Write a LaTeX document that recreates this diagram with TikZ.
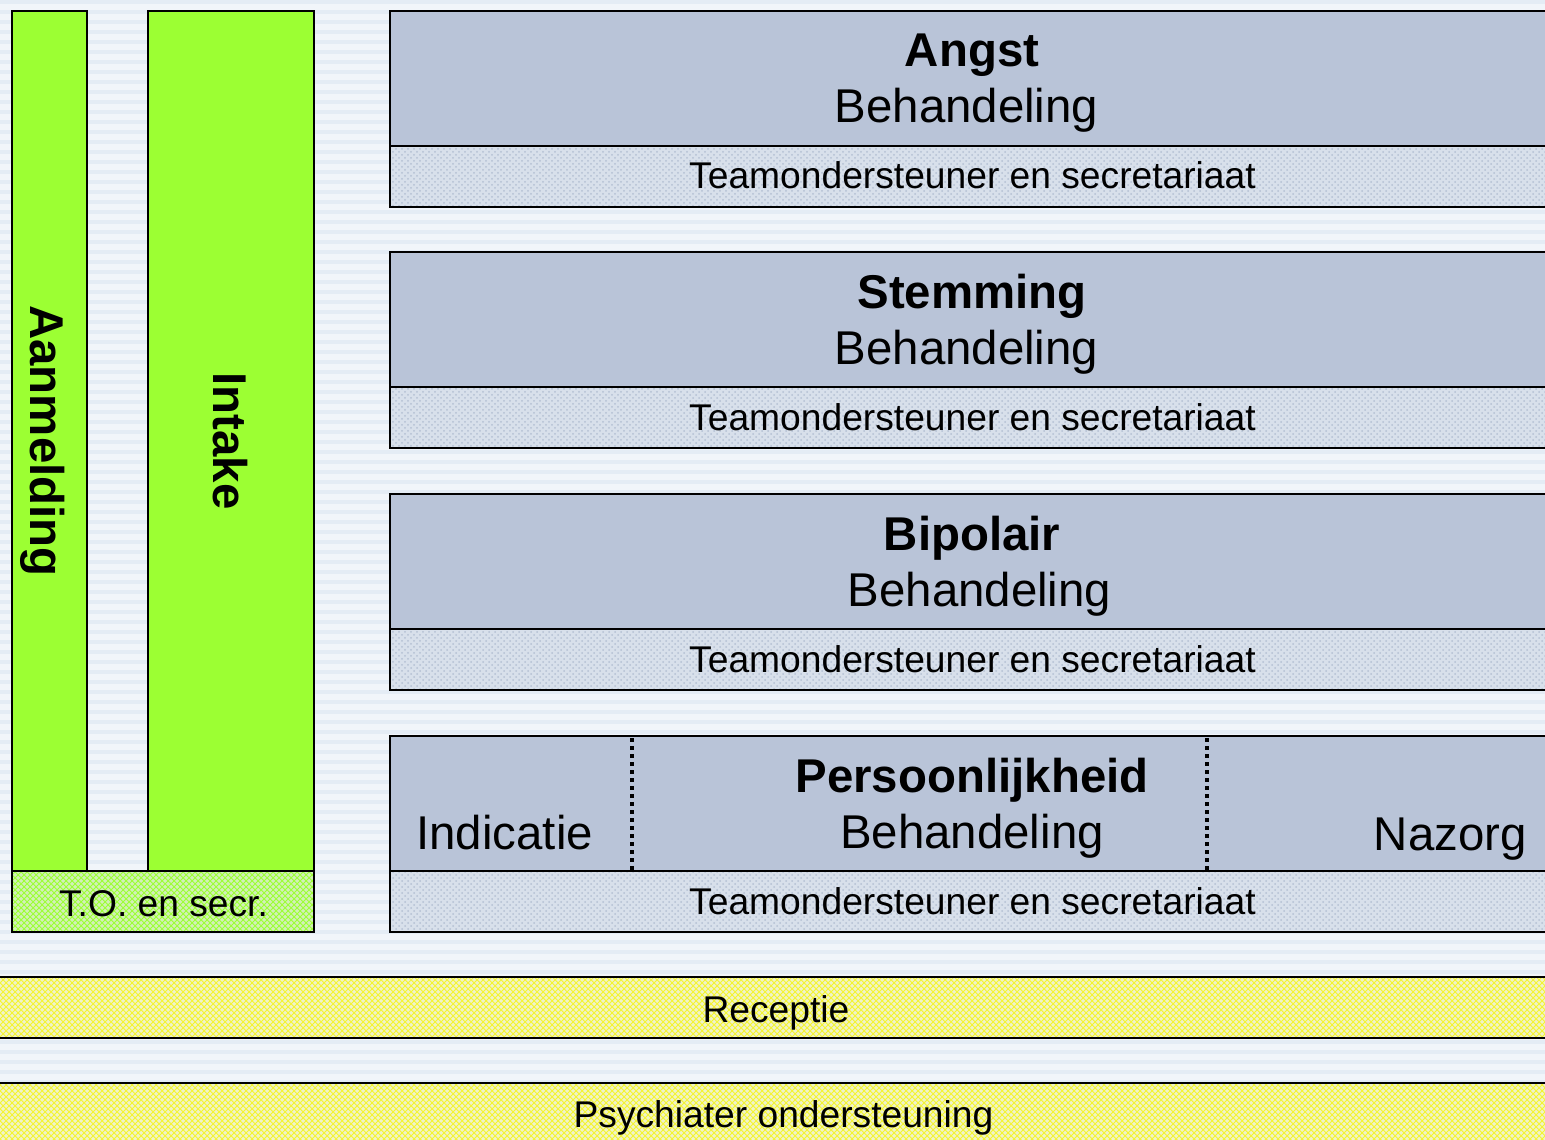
\documentclass[tikz,border=0pt]{standalone}
\usepackage{fontspec}
\setmainfont{Liberation Sans}
\usepackage{tikz}
\usetikzlibrary{patterns}
\definecolor{mybg}{HTML}{F1F5FA}
\definecolor{mystripe}{HTML}{E4ECF5}
\definecolor{mygreen}{HTML}{9CFF33}
\definecolor{mygreenlight}{HTML}{D2F0B8}
\definecolor{myblue}{HTML}{B9C4D8}
\definecolor{myteamblue}{HTML}{D8E0EB}
\definecolor{myteamdots}{HTML}{B4C0D3}
\definecolor{myyellowlight}{HTML}{F0F3C8}
\definecolor{myyellow}{HTML}{F4F430}
\tikzset{mybig/.style={font=\fontsize{23.7}{28}\selectfont,inner sep=0pt},
mybigbold/.style={font=\fontsize{23.7}{28}\selectfont\bfseries,inner sep=0pt},
mysmall/.style={font=\fontsize{18.6}{22}\selectfont,inner sep=0pt},
mygreenbar/.style={draw,line width=1pt,fill=mygreen},
mygreenband/.style={draw,line width=1pt,preaction={fill=mygreenlight},pattern=crosshatch,pattern color=mygreen},
myblock/.style={draw,line width=1pt,fill=myblue},
myteam/.style={draw,line width=1pt,preaction={fill=myteamblue},pattern=crosshatch dots,pattern color=myteamdots},
myyellowband/.style={draw,line width=1pt,preaction={fill=myyellowlight},pattern=crosshatch,pattern color=myyellow},
mydots/.style={line width=1.8pt,dash pattern=on 1.8pt off 2.2pt}}
\begin{document}
\begin{tikzpicture}[x=0.5pt,y=-0.5pt]
\useasboundingbox (0,0) rectangle (1545,1139);
\clip (0,0) rectangle (1545,1139);
\fill[mybg] (0,0) rectangle (1545,1139);
\foreach \ystripe in {0,10,...,1130}{
\fill[mystripe] (0,\ystripe) rectangle (1545,\ystripe+4);
}

\draw[mygreenbar] (12,11) rectangle (87,871);
\draw[mygreenbar] (148,11) rectangle (314,871);
\draw[mygreenband] (12,871) rectangle (314,932);
\node[mybigbold,rotate=-90,anchor=base] (aanmelding) at (31,441) {Aanmelding};
\node[mybigbold,rotate=-90,anchor=base] (intake) at (213,441) {Intake};
\node[mysmall,anchor=base] (tosecr) at (163.5,916) {T.O. en secr.};

\foreach \ytop/\title/\xbeh [count=\i] in {11/Angst/966.5,252/Stemming/966.5,494/Bipolair/979.5,736/Persoonlijkheid/972}{
\draw[myblock] (390,\ytop) rectangle (1560,\ytop+135);
\draw[myteam] (390,\ytop+135) rectangle (1560,\ytop+196);
\node[mybigbold,anchor=base] (title\i) at (972,\ytop+56) {\title};
\node[mybig,anchor=base] (beh\i) at (\xbeh,\ytop+112) {Behandeling};
\node[mysmall,anchor=base] (team\i) at (972.5,\ytop+178) {Teamondersteuner en secretariaat};
}
\draw[mydots] (632,738) -- (632,870);
\draw[mydots] (1207,738) -- (1207,870);
\node[mybig,anchor=base west] (indicatie) at (416,849) {Indicatie};
\node[mybig,anchor=base east] (nazorg) at (1527,850) {Nazorg};

\draw[myyellowband] (-10,977) rectangle (1560,1038);
\node[mysmall,anchor=base] (receptie) at (776,1022) {Receptie};
\draw[myyellowband] (-10,1083) rectangle (1560,1150);
\node[mysmall,anchor=base] (psychiater) at (783.5,1127) {Psychiater ondersteuning};
\end{tikzpicture}
\end{document}
